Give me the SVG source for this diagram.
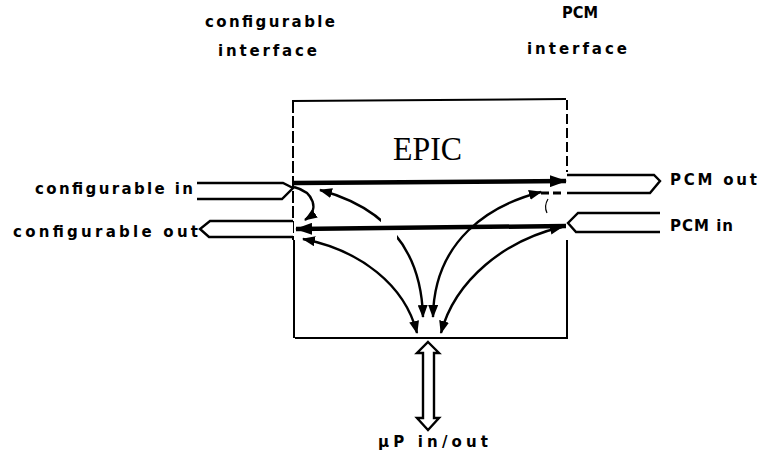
<svg xmlns="http://www.w3.org/2000/svg" width="760" height="458" viewBox="0 0 760 458">
<style>
.lbl{font-family:"DejaVu Sans","Liberation Sans",sans-serif;font-size:15px;font-weight:bold;fill:#000}
.ttl{font-family:"Liberation Serif","DejaVu Serif",serif;font-size:34px;fill:#000}
.edge{fill:none;stroke:#000;stroke-width:2}
.thick{fill:none;stroke:#000;stroke-width:4.5}
.curve{fill:none;stroke:#000;stroke-width:2.4}
.hollow{fill:#fff;stroke:#000;stroke-width:2.4;stroke-linejoin:miter}
</style>
<defs>
<marker id="ahs" viewBox="0 0 13 10" refX="12" refY="5" markerWidth="13" markerHeight="10" markerUnits="userSpaceOnUse" orient="auto-start-reverse">
<path d="M0,0 L13,5 L0,10 Z" fill="#000"/>
</marker>
<marker id="ahl" viewBox="0 0 17 12" refX="16" refY="6" markerWidth="17" markerHeight="12" markerUnits="userSpaceOnUse" orient="auto">
<path d="M0,0 L17,6 L0,12 Z" fill="#000"/>
</marker>
</defs>
<rect width="760" height="458" fill="#fff"/>

<g id="epic">
<path class="edge" d="M292,101 L566,99"/>
<path class="edge" d="M295,338 L568,338" stroke-width="2.5"/>
<path class="edge" d="M293,101 V240" stroke-width="1.3" stroke-dasharray="12 3"/>
<path class="edge" d="M294,240 V338" stroke-width="1.8"/>
<path class="edge" d="M567,100 V172" stroke-width="1.3" stroke-dasharray="10 4"/>
<path class="edge" d="M567,240 V338" stroke-width="1.8"/>
<text class="ttl" x="393" y="160" textLength="69" lengthAdjust="spacingAndGlyphs">EPIC</text>
</g>

<g id="cfg-header">
<text class="lbl" x="205" y="27" textLength="130" lengthAdjust="spacing">configurable</text>
<text class="lbl" x="218" y="56" textLength="99" lengthAdjust="spacing">interface</text>
</g>
<g id="pcm-header">
<text class="lbl" x="562" y="18" textLength="36" lengthAdjust="spacingAndGlyphs">PCM</text>
<text class="lbl" x="527" y="54" textLength="100" lengthAdjust="spacing">interface</text>
</g>

<g id="cfg-in">
<text class="lbl" x="35" y="194" textLength="158" lengthAdjust="spacing">configurable in</text>
</g>
<g id="cfg-out">
<text class="lbl" x="13" y="237" textLength="185" lengthAdjust="spacing">configurable out</text>
</g>
<g id="pcm-out">
<text class="lbl" x="670" y="185" textLength="87" lengthAdjust="spacing">PCM out</text>
</g>
<g id="pcm-in">
<text class="lbl" x="670" y="231" textLength="63" lengthAdjust="spacing">PCM in</text>
</g>
<g id="up">
<text class="lbl" x="378" y="447" textLength="110" lengthAdjust="spacing">µP in/out</text>
</g>

<g id="connectors">
<path class="hollow" d="M197,183 H283 L293,188 L282,199 H197"/>
<path class="hollow" d="M293,221 H210 L200,229 L209,237 H293"/>
<path class="hollow" d="M567,175 H654 L660,181 L650,193 H567"/>
<path class="hollow" d="M660,213 H578 L568,223 L576,232 H660"/>
<path class="hollow" d="M428,342 L439,353 L434,353 L434,418 L439,418 L428,430 L417,418 L423,418 L423,353 L417,353 Z"/>

<path class="curve" d="M320,190 C375,205 421,240 423,317" marker-start="url(#ahs)" marker-end="url(#ahs)"/>
<path class="curve" d="M541,192 C490,205 434,240 433,317" marker-start="url(#ahs)" marker-end="url(#ahs)"/>
<path class="curve" d="M303,239 C360,250 405,285 417,333" marker-start="url(#ahs)" marker-end="url(#ahs)"/>
<path class="curve" d="M562,227 C505,240 455,280 441,333" marker-start="url(#ahs)" marker-end="url(#ahs)"/>

<path class="curve" d="M294,187 C314,192 320,210 305,220" marker-end="url(#ahs)"/>
<path d="M541,193 H563" fill="none" stroke="#000" stroke-width="3" stroke-dasharray="8 4"/>
<path d="M548,199 C545,204 545,209 547,213" fill="none" stroke="#000" stroke-width="1.2"/>

<rect x="381" y="217" width="16" height="22" fill="#fff"/>

<path class="thick" d="M294,183 L566,181" marker-end="url(#ahl)"/>
<path class="thick" d="M566,226 L296,229" marker-end="url(#ahl)"/>
</g>
</svg>
